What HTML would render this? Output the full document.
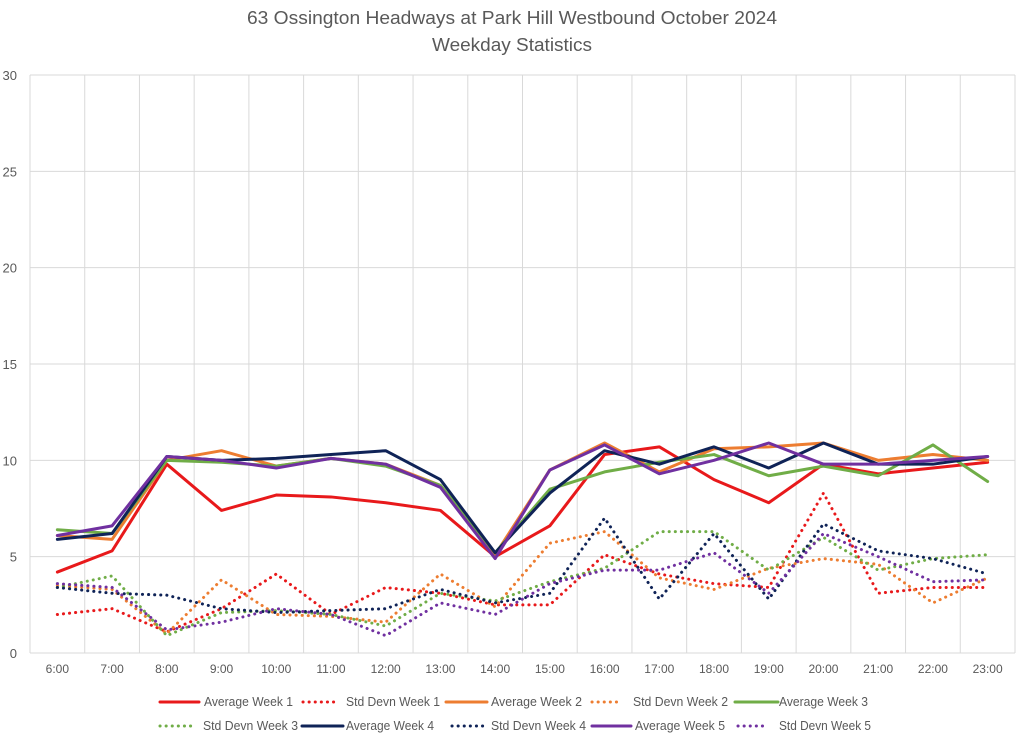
<!DOCTYPE html>
<html><head><meta charset="utf-8"><style>
body{margin:0;background:#fff;font-family:"Liberation Sans",sans-serif;}
svg text{font-family:"Liberation Sans",sans-serif;fill:#595959;}
</style></head><body>
<svg id="c" width="1024" height="737">
<text x="512" y="24" text-anchor="middle" font-size="18" textLength="530" lengthAdjust="spacingAndGlyphs">63 Ossington Headways at Park Hill Westbound October 2024</text>
<text x="512" y="51" text-anchor="middle" font-size="18" textLength="160" lengthAdjust="spacingAndGlyphs">Weekday Statistics</text>
<g id="grid"></g><g id="series"></g><g id="legend"></g>
</svg>
<script>
const categories=["6:00","7:00","8:00","9:00","10:00","11:00","12:00","13:00","14:00","15:00","16:00","17:00","18:00","19:00","20:00","21:00","22:00","23:00"];
const yTicks=[0,5,10,15,20,25,30];
const avgW1=[4.2,5.3,9.8,7.4,8.2,8.1,7.8,7.4,5.0,6.6,10.3,10.7,9.0,7.8,9.8,9.3,9.6,9.9];
const sdW1=[2.0,2.3,1.1,2.3,4.1,2.0,3.4,3.1,2.5,2.5,5.1,4.1,3.6,3.4,8.3,3.1,3.4,3.4];
const avgW2=[6.1,5.9,10.0,10.5,9.7,10.1,9.8,8.7,5.1,9.5,10.9,9.4,10.6,10.7,10.9,10.0,10.3,10.0];
const sdW2=[3.5,3.3,1.0,3.8,2.0,1.9,1.6,4.1,2.4,5.7,6.3,3.9,3.3,4.4,4.9,4.6,2.6,3.9];
const avgW3=[6.4,6.2,10.0,9.9,9.7,10.1,9.7,8.7,5.2,8.5,9.4,9.9,10.3,9.2,9.7,9.2,10.8,8.9];
const sdW3=[3.4,4.0,0.9,2.1,2.2,2.0,1.4,3.1,2.7,3.7,4.4,6.3,6.3,4.3,6.0,4.3,4.9,5.1];
const avgW4=[5.9,6.2,10.2,10.0,10.1,10.3,10.5,9.0,5.2,8.3,10.5,9.8,10.7,9.6,10.9,9.8,9.8,10.2];
const sdW4=[3.4,3.1,3.0,2.3,2.1,2.2,2.3,3.3,2.6,3.1,7.0,2.8,6.2,2.8,6.7,5.3,4.9,4.1];
const avgW5=[6.1,6.6,10.2,10.0,9.6,10.1,9.8,8.6,4.9,9.5,10.8,9.3,10.0,10.9,9.8,9.8,10.0,10.2];
const sdW5=[3.6,3.4,1.2,1.6,2.3,2.0,0.9,2.6,2.0,3.6,4.3,4.3,5.2,3.1,6.2,5.0,3.7,3.8];

const NS="http://www.w3.org/2000/svg";
const L=30,R=1015,T=75,B=653;
const bw=(R-L)/categories.length;
const xs=i=>L+bw*(i+0.5);
const ys=v=>B-(v/30)*(B-T);
function mk(t,a,p){const e=document.createElementNS(NS,t);for(const k in a)e.setAttribute(k,a[k]);p.appendChild(e);return e;}
const grid=document.getElementById('grid');
yTicks.forEach(v=>{
  const ln=mk('line',{x1:L,x2:R,y1:ys(v),y2:ys(v),stroke:'#d9d9d9','stroke-width':1},grid);
  
  
  const t=mk('text',{x:17,y:ys(v)+5,'text-anchor':'end','font-size':13},grid);t.textContent=v;
  
  
});
for(let i=0;i<=categories.length;i++){
  const ln=mk('line',{x1:L+bw*i,x2:L+bw*i,y1:T,y2:B,stroke:'#d9d9d9','stroke-width':1},grid);
  
  
}
categories.forEach((c,i)=>{
  const t=mk('text',{x:xs(i),y:673,'text-anchor':'middle','font-size':12},grid);t.textContent=c;
  
  
});
const series=[
 ["Average Week 1",avgW1,"#e8191b",false],["Std Devn Week 1",sdW1,"#e8191b",true],
 ["Average Week 2",avgW2,"#ed7d31",false],["Std Devn Week 2",sdW2,"#ed7d31",true],
 ["Average Week 3",avgW3,"#70ad47",false],["Std Devn Week 3",sdW3,"#70ad47",true],
 ["Average Week 4",avgW4,"#0f2357",false],["Std Devn Week 4",sdW4,"#0f2357",true],
 ["Average Week 5",avgW5,"#7030a0",false],["Std Devn Week 5",sdW5,"#7030a0",true]];
const sg=document.getElementById('series');
series.forEach(s=>{
  const p=mk('polyline',{points:s[1].map((v,i)=>xs(i)+','+ys(v)).join(' '),fill:'none',stroke:s[2],'stroke-width':3,'stroke-linejoin':'round','stroke-linecap':'round'},sg);
  if(s[3]){p.setAttribute('stroke-dasharray','0.1 6');}
  
  
});
const lg=document.getElementById('legend');
const lineX=[159,302,445,591,734,159,301,451,591,737];
const lineW=[41,36,43,32,45,33,43,34,41,32];
const textX=[204,346,491,633,779,203,346,491,635,779];
const textW=[89,94,91,95,89,95,88,95,90,92];
series.forEach((s,i)=>{
  const y=i<5?702:726;
  const g=mk('g',{},lg);
  
  
  const ln=mk('line',{x1:lineX[i]+1,x2:lineX[i]+lineW[i]-1,y1:y,y2:y,stroke:s[2],'stroke-width':3,'stroke-linecap':'round'},g);
  if(s[3])ln.setAttribute('stroke-dasharray','0.1 6');
  const t=mk('text',{x:textX[i],y:y+4,'font-size':13,textLength:textW[i],lengthAdjust:'spacingAndGlyphs'},g);t.textContent=s[0];
});
</script>
</body></html>
